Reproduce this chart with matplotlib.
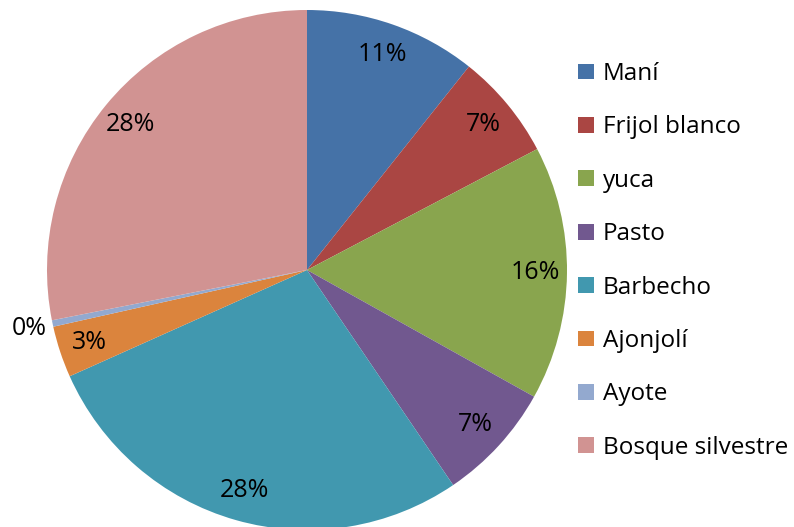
import math
import matplotlib
matplotlib.use("Agg")
import matplotlib.pyplot as plt
from matplotlib.patches import Patch

categories = ["Maní", "Frijol blanco", "yuca", "Pasto", "Barbecho", "Ajonjolí", "Ayote", "Bosque silvestre"]
values = [10.7, 6.6, 15.8, 7.4, 27.8, 3.2, 0.4, 28.1]
colors = ["#4572A7", "#AA4643", "#89A54E", "#71588F", "#4198AF", "#DB843D", "#93A9CF", "#D19392"]

plt.rcParams['font.family'] = ['Open Sans', 'DejaVu Sans']

W, H = 794, 527
fig = plt.figure(figsize=(W / 100, H / 100), dpi=100)
ax = fig.add_axes([0, 0, 1, 1])

cx, cy, R = 307, H - 270, 260
wedges, texts, autotexts = ax.pie(
    values, colors=colors, startangle=90, counterclock=False,
    center=(cx, cy), radius=R, autopct=lambda p: f"{p:.0f}%",
    pctdistance=0.88, textprops=dict(fontsize=18, color='black'),
    wedgeprops=dict(linewidth=0), frame=True)
ax.set_xlim(0, W)
ax.set_ylim(0, H)
ax.set_aspect('equal')
ax.axis('off')

# Ayote label outside
w = wedges[6]
mid = math.radians((w.theta1 + w.theta2) / 2)
autotexts[6].set_position((cx + 1.09 * R * math.cos(mid), cy + 1.09 * R * math.sin(mid)))

handles = [Patch(facecolor=c, edgecolor='none') for c in colors]
leg = ax.legend(handles, categories, loc='upper left', bbox_to_anchor=(578 / W, 1 - 62 / H),
                frameon=False, fontsize=17.5, handlelength=0.66, handleheight=0.62,
                handletextpad=0.37, labelspacing=1.21, borderaxespad=0, borderpad=0)

fig.savefig("out.png", dpi=100)
